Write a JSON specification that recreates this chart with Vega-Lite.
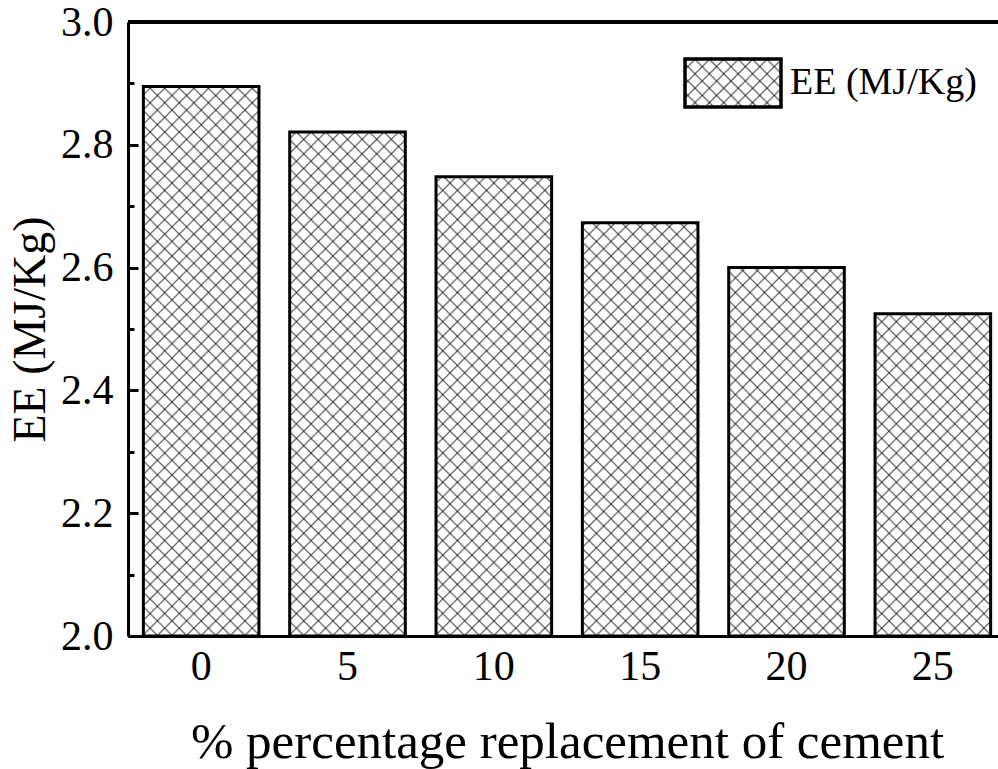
{
  "$schema": "https://vega.github.io/schema/vega-lite/v6.json",
  "width": 870,
  "height": 614,
  "autosize": {"type": "none"},
  "padding": {"left": 128, "top": 22, "right": 0, "bottom": 133},
  "background": "white",
  "config": {
    "view": {"stroke": null},
    "font": "Liberation Serif"
  },
  "data": {
    "values": [
      {"pct": 0, "EE": 2.895},
      {"pct": 5, "EE": 2.821},
      {"pct": 10, "EE": 2.748},
      {"pct": 15, "EE": 2.673},
      {"pct": 20, "EE": 2.600},
      {"pct": 25, "EE": 2.525}
    ]
  },
  "layer": [
    {
      "mark": {
        "type": "bar",
        "strokeWidth": 0,
        "fill": {
          "gradient": "linear",
          "x1": 0, "y1": 1, "x2": 0.21607, "y2": -0.14763,
          "stops": [
            {"offset": 0.0175, "color": "rgba(0,0,0,0)"}, {"offset": 0.02, "color": "rgba(0,0,0,0.6)"}, {"offset": 0.0225, "color": "rgba(0,0,0,0)"},
            {"offset": 0.0375, "color": "rgba(0,0,0,0)"}, {"offset": 0.04, "color": "rgba(0,0,0,0.6)"}, {"offset": 0.0425, "color": "rgba(0,0,0,0)"},
            {"offset": 0.0575, "color": "rgba(0,0,0,0)"}, {"offset": 0.06, "color": "rgba(0,0,0,0.6)"}, {"offset": 0.0625, "color": "rgba(0,0,0,0)"},
            {"offset": 0.0775, "color": "rgba(0,0,0,0)"}, {"offset": 0.08, "color": "rgba(0,0,0,0.6)"}, {"offset": 0.0825, "color": "rgba(0,0,0,0)"},
            {"offset": 0.0975, "color": "rgba(0,0,0,0)"}, {"offset": 0.10, "color": "rgba(0,0,0,0.6)"}, {"offset": 0.1025, "color": "rgba(0,0,0,0)"},
            {"offset": 0.1175, "color": "rgba(0,0,0,0)"}, {"offset": 0.12, "color": "rgba(0,0,0,0.6)"}, {"offset": 0.1225, "color": "rgba(0,0,0,0)"},
            {"offset": 0.1375, "color": "rgba(0,0,0,0)"}, {"offset": 0.14, "color": "rgba(0,0,0,0.6)"}, {"offset": 0.1425, "color": "rgba(0,0,0,0)"},
            {"offset": 0.1575, "color": "rgba(0,0,0,0)"}, {"offset": 0.16, "color": "rgba(0,0,0,0.6)"}, {"offset": 0.1625, "color": "rgba(0,0,0,0)"},
            {"offset": 0.1775, "color": "rgba(0,0,0,0)"}, {"offset": 0.18, "color": "rgba(0,0,0,0.6)"}, {"offset": 0.1825, "color": "rgba(0,0,0,0)"},
            {"offset": 0.1975, "color": "rgba(0,0,0,0)"}, {"offset": 0.20, "color": "rgba(0,0,0,0.6)"}, {"offset": 0.2025, "color": "rgba(0,0,0,0)"},
            {"offset": 0.2175, "color": "rgba(0,0,0,0)"}, {"offset": 0.22, "color": "rgba(0,0,0,0.6)"}, {"offset": 0.2225, "color": "rgba(0,0,0,0)"},
            {"offset": 0.2375, "color": "rgba(0,0,0,0)"}, {"offset": 0.24, "color": "rgba(0,0,0,0.6)"}, {"offset": 0.2425, "color": "rgba(0,0,0,0)"},
            {"offset": 0.2575, "color": "rgba(0,0,0,0)"}, {"offset": 0.26, "color": "rgba(0,0,0,0.6)"}, {"offset": 0.2625, "color": "rgba(0,0,0,0)"},
            {"offset": 0.2775, "color": "rgba(0,0,0,0)"}, {"offset": 0.28, "color": "rgba(0,0,0,0.6)"}, {"offset": 0.2825, "color": "rgba(0,0,0,0)"},
            {"offset": 0.2975, "color": "rgba(0,0,0,0)"}, {"offset": 0.30, "color": "rgba(0,0,0,0.6)"}, {"offset": 0.3025, "color": "rgba(0,0,0,0)"},
            {"offset": 0.3175, "color": "rgba(0,0,0,0)"}, {"offset": 0.32, "color": "rgba(0,0,0,0.6)"}, {"offset": 0.3225, "color": "rgba(0,0,0,0)"},
            {"offset": 0.3375, "color": "rgba(0,0,0,0)"}, {"offset": 0.34, "color": "rgba(0,0,0,0.6)"}, {"offset": 0.3425, "color": "rgba(0,0,0,0)"},
            {"offset": 0.3575, "color": "rgba(0,0,0,0)"}, {"offset": 0.36, "color": "rgba(0,0,0,0.6)"}, {"offset": 0.3625, "color": "rgba(0,0,0,0)"},
            {"offset": 0.3775, "color": "rgba(0,0,0,0)"}, {"offset": 0.38, "color": "rgba(0,0,0,0.6)"}, {"offset": 0.3825, "color": "rgba(0,0,0,0)"},
            {"offset": 0.3975, "color": "rgba(0,0,0,0)"}, {"offset": 0.40, "color": "rgba(0,0,0,0.6)"}, {"offset": 0.4025, "color": "rgba(0,0,0,0)"},
            {"offset": 0.4175, "color": "rgba(0,0,0,0)"}, {"offset": 0.42, "color": "rgba(0,0,0,0.6)"}, {"offset": 0.4225, "color": "rgba(0,0,0,0)"},
            {"offset": 0.4375, "color": "rgba(0,0,0,0)"}, {"offset": 0.44, "color": "rgba(0,0,0,0.6)"}, {"offset": 0.4425, "color": "rgba(0,0,0,0)"},
            {"offset": 0.4575, "color": "rgba(0,0,0,0)"}, {"offset": 0.46, "color": "rgba(0,0,0,0.6)"}, {"offset": 0.4625, "color": "rgba(0,0,0,0)"},
            {"offset": 0.4775, "color": "rgba(0,0,0,0)"}, {"offset": 0.48, "color": "rgba(0,0,0,0.6)"}, {"offset": 0.4825, "color": "rgba(0,0,0,0)"},
            {"offset": 0.4975, "color": "rgba(0,0,0,0)"}, {"offset": 0.50, "color": "rgba(0,0,0,0.6)"}, {"offset": 0.5025, "color": "rgba(0,0,0,0)"},
            {"offset": 0.5175, "color": "rgba(0,0,0,0)"}, {"offset": 0.52, "color": "rgba(0,0,0,0.6)"}, {"offset": 0.5225, "color": "rgba(0,0,0,0)"},
            {"offset": 0.5375, "color": "rgba(0,0,0,0)"}, {"offset": 0.54, "color": "rgba(0,0,0,0.6)"}, {"offset": 0.5425, "color": "rgba(0,0,0,0)"},
            {"offset": 0.5575, "color": "rgba(0,0,0,0)"}, {"offset": 0.56, "color": "rgba(0,0,0,0.6)"}, {"offset": 0.5625, "color": "rgba(0,0,0,0)"},
            {"offset": 0.5775, "color": "rgba(0,0,0,0)"}, {"offset": 0.58, "color": "rgba(0,0,0,0.6)"}, {"offset": 0.5825, "color": "rgba(0,0,0,0)"},
            {"offset": 0.5975, "color": "rgba(0,0,0,0)"}, {"offset": 0.60, "color": "rgba(0,0,0,0.6)"}, {"offset": 0.6025, "color": "rgba(0,0,0,0)"},
            {"offset": 0.6175, "color": "rgba(0,0,0,0)"}, {"offset": 0.62, "color": "rgba(0,0,0,0.6)"}, {"offset": 0.6225, "color": "rgba(0,0,0,0)"},
            {"offset": 0.6375, "color": "rgba(0,0,0,0)"}, {"offset": 0.64, "color": "rgba(0,0,0,0.6)"}, {"offset": 0.6425, "color": "rgba(0,0,0,0)"},
            {"offset": 0.6575, "color": "rgba(0,0,0,0)"}, {"offset": 0.66, "color": "rgba(0,0,0,0.6)"}, {"offset": 0.6625, "color": "rgba(0,0,0,0)"},
            {"offset": 0.6775, "color": "rgba(0,0,0,0)"}, {"offset": 0.68, "color": "rgba(0,0,0,0.6)"}, {"offset": 0.6825, "color": "rgba(0,0,0,0)"},
            {"offset": 0.6975, "color": "rgba(0,0,0,0)"}, {"offset": 0.70, "color": "rgba(0,0,0,0.6)"}, {"offset": 0.7025, "color": "rgba(0,0,0,0)"},
            {"offset": 0.7175, "color": "rgba(0,0,0,0)"}, {"offset": 0.72, "color": "rgba(0,0,0,0.6)"}, {"offset": 0.7225, "color": "rgba(0,0,0,0)"},
            {"offset": 0.7375, "color": "rgba(0,0,0,0)"}, {"offset": 0.74, "color": "rgba(0,0,0,0.6)"}, {"offset": 0.7425, "color": "rgba(0,0,0,0)"},
            {"offset": 0.7575, "color": "rgba(0,0,0,0)"}, {"offset": 0.76, "color": "rgba(0,0,0,0.6)"}, {"offset": 0.7625, "color": "rgba(0,0,0,0)"},
            {"offset": 0.7775, "color": "rgba(0,0,0,0)"}, {"offset": 0.78, "color": "rgba(0,0,0,0.6)"}, {"offset": 0.7825, "color": "rgba(0,0,0,0)"},
            {"offset": 0.7975, "color": "rgba(0,0,0,0)"}, {"offset": 0.80, "color": "rgba(0,0,0,0.6)"}, {"offset": 0.8025, "color": "rgba(0,0,0,0)"},
            {"offset": 0.8175, "color": "rgba(0,0,0,0)"}, {"offset": 0.82, "color": "rgba(0,0,0,0.6)"}, {"offset": 0.8225, "color": "rgba(0,0,0,0)"},
            {"offset": 0.8375, "color": "rgba(0,0,0,0)"}, {"offset": 0.84, "color": "rgba(0,0,0,0.6)"}, {"offset": 0.8425, "color": "rgba(0,0,0,0)"},
            {"offset": 0.8575, "color": "rgba(0,0,0,0)"}, {"offset": 0.86, "color": "rgba(0,0,0,0.6)"}, {"offset": 0.8625, "color": "rgba(0,0,0,0)"},
            {"offset": 0.8775, "color": "rgba(0,0,0,0)"}, {"offset": 0.88, "color": "rgba(0,0,0,0.6)"}, {"offset": 0.8825, "color": "rgba(0,0,0,0)"},
            {"offset": 0.8975, "color": "rgba(0,0,0,0)"}, {"offset": 0.90, "color": "rgba(0,0,0,0.6)"}, {"offset": 0.9025, "color": "rgba(0,0,0,0)"},
            {"offset": 0.9175, "color": "rgba(0,0,0,0)"}, {"offset": 0.92, "color": "rgba(0,0,0,0.6)"}, {"offset": 0.9225, "color": "rgba(0,0,0,0)"},
            {"offset": 0.9375, "color": "rgba(0,0,0,0)"}, {"offset": 0.94, "color": "rgba(0,0,0,0.6)"}, {"offset": 0.9425, "color": "rgba(0,0,0,0)"},
            {"offset": 0.9575, "color": "rgba(0,0,0,0)"}, {"offset": 0.96, "color": "rgba(0,0,0,0.6)"}, {"offset": 0.9625, "color": "rgba(0,0,0,0)"},
            {"offset": 0.9775, "color": "rgba(0,0,0,0)"}, {"offset": 0.98, "color": "rgba(0,0,0,0.6)"}, {"offset": 0.9825, "color": "rgba(0,0,0,0)"}
          ]
        }
      },
      "encoding": {
        "x": {
          "field": "pct",
          "type": "ordinal",
          "scale": {"range": [0, 878], "paddingInner": 0.21, "paddingOuter": 0.105},
          "axis": {
            "title": "% percentage replacement of cement",
            "labelAngle": 0,
            "labelFont": "Liberation Serif",
            "labelFontSize": 42,
            "labelColor": "black",
            "labelPadding": 10,
            "ticks": false,
            "domainColor": "black",
            "domainWidth": 3,
            "titleFont": "Liberation Serif",
            "titleFontSize": 51,
            "titleFontWeight": "normal",
            "titleColor": "black",
            "titlePadding": 30,
            "zindex": 2
          }
        },
        "y": {"datum": 2, "type": "quantitative"},
        "y2": {"datum": 3}
      }
    },
    {
      "mark": {
        "type": "bar",
        "strokeWidth": 0,
        "fill": {
          "gradient": "linear",
          "x1": 0, "y1": 0, "x2": 0.21607, "y2": 1.14763,
          "stops": [
            {"offset": 0.0175, "color": "rgba(0,0,0,0)"}, {"offset": 0.02, "color": "rgba(0,0,0,0.6)"}, {"offset": 0.0225, "color": "rgba(0,0,0,0)"},
            {"offset": 0.0375, "color": "rgba(0,0,0,0)"}, {"offset": 0.04, "color": "rgba(0,0,0,0.6)"}, {"offset": 0.0425, "color": "rgba(0,0,0,0)"},
            {"offset": 0.0575, "color": "rgba(0,0,0,0)"}, {"offset": 0.06, "color": "rgba(0,0,0,0.6)"}, {"offset": 0.0625, "color": "rgba(0,0,0,0)"},
            {"offset": 0.0775, "color": "rgba(0,0,0,0)"}, {"offset": 0.08, "color": "rgba(0,0,0,0.6)"}, {"offset": 0.0825, "color": "rgba(0,0,0,0)"},
            {"offset": 0.0975, "color": "rgba(0,0,0,0)"}, {"offset": 0.10, "color": "rgba(0,0,0,0.6)"}, {"offset": 0.1025, "color": "rgba(0,0,0,0)"},
            {"offset": 0.1175, "color": "rgba(0,0,0,0)"}, {"offset": 0.12, "color": "rgba(0,0,0,0.6)"}, {"offset": 0.1225, "color": "rgba(0,0,0,0)"},
            {"offset": 0.1375, "color": "rgba(0,0,0,0)"}, {"offset": 0.14, "color": "rgba(0,0,0,0.6)"}, {"offset": 0.1425, "color": "rgba(0,0,0,0)"},
            {"offset": 0.1575, "color": "rgba(0,0,0,0)"}, {"offset": 0.16, "color": "rgba(0,0,0,0.6)"}, {"offset": 0.1625, "color": "rgba(0,0,0,0)"},
            {"offset": 0.1775, "color": "rgba(0,0,0,0)"}, {"offset": 0.18, "color": "rgba(0,0,0,0.6)"}, {"offset": 0.1825, "color": "rgba(0,0,0,0)"},
            {"offset": 0.1975, "color": "rgba(0,0,0,0)"}, {"offset": 0.20, "color": "rgba(0,0,0,0.6)"}, {"offset": 0.2025, "color": "rgba(0,0,0,0)"},
            {"offset": 0.2175, "color": "rgba(0,0,0,0)"}, {"offset": 0.22, "color": "rgba(0,0,0,0.6)"}, {"offset": 0.2225, "color": "rgba(0,0,0,0)"},
            {"offset": 0.2375, "color": "rgba(0,0,0,0)"}, {"offset": 0.24, "color": "rgba(0,0,0,0.6)"}, {"offset": 0.2425, "color": "rgba(0,0,0,0)"},
            {"offset": 0.2575, "color": "rgba(0,0,0,0)"}, {"offset": 0.26, "color": "rgba(0,0,0,0.6)"}, {"offset": 0.2625, "color": "rgba(0,0,0,0)"},
            {"offset": 0.2775, "color": "rgba(0,0,0,0)"}, {"offset": 0.28, "color": "rgba(0,0,0,0.6)"}, {"offset": 0.2825, "color": "rgba(0,0,0,0)"},
            {"offset": 0.2975, "color": "rgba(0,0,0,0)"}, {"offset": 0.30, "color": "rgba(0,0,0,0.6)"}, {"offset": 0.3025, "color": "rgba(0,0,0,0)"},
            {"offset": 0.3175, "color": "rgba(0,0,0,0)"}, {"offset": 0.32, "color": "rgba(0,0,0,0.6)"}, {"offset": 0.3225, "color": "rgba(0,0,0,0)"},
            {"offset": 0.3375, "color": "rgba(0,0,0,0)"}, {"offset": 0.34, "color": "rgba(0,0,0,0.6)"}, {"offset": 0.3425, "color": "rgba(0,0,0,0)"},
            {"offset": 0.3575, "color": "rgba(0,0,0,0)"}, {"offset": 0.36, "color": "rgba(0,0,0,0.6)"}, {"offset": 0.3625, "color": "rgba(0,0,0,0)"},
            {"offset": 0.3775, "color": "rgba(0,0,0,0)"}, {"offset": 0.38, "color": "rgba(0,0,0,0.6)"}, {"offset": 0.3825, "color": "rgba(0,0,0,0)"},
            {"offset": 0.3975, "color": "rgba(0,0,0,0)"}, {"offset": 0.40, "color": "rgba(0,0,0,0.6)"}, {"offset": 0.4025, "color": "rgba(0,0,0,0)"},
            {"offset": 0.4175, "color": "rgba(0,0,0,0)"}, {"offset": 0.42, "color": "rgba(0,0,0,0.6)"}, {"offset": 0.4225, "color": "rgba(0,0,0,0)"},
            {"offset": 0.4375, "color": "rgba(0,0,0,0)"}, {"offset": 0.44, "color": "rgba(0,0,0,0.6)"}, {"offset": 0.4425, "color": "rgba(0,0,0,0)"},
            {"offset": 0.4575, "color": "rgba(0,0,0,0)"}, {"offset": 0.46, "color": "rgba(0,0,0,0.6)"}, {"offset": 0.4625, "color": "rgba(0,0,0,0)"},
            {"offset": 0.4775, "color": "rgba(0,0,0,0)"}, {"offset": 0.48, "color": "rgba(0,0,0,0.6)"}, {"offset": 0.4825, "color": "rgba(0,0,0,0)"},
            {"offset": 0.4975, "color": "rgba(0,0,0,0)"}, {"offset": 0.50, "color": "rgba(0,0,0,0.6)"}, {"offset": 0.5025, "color": "rgba(0,0,0,0)"},
            {"offset": 0.5175, "color": "rgba(0,0,0,0)"}, {"offset": 0.52, "color": "rgba(0,0,0,0.6)"}, {"offset": 0.5225, "color": "rgba(0,0,0,0)"},
            {"offset": 0.5375, "color": "rgba(0,0,0,0)"}, {"offset": 0.54, "color": "rgba(0,0,0,0.6)"}, {"offset": 0.5425, "color": "rgba(0,0,0,0)"},
            {"offset": 0.5575, "color": "rgba(0,0,0,0)"}, {"offset": 0.56, "color": "rgba(0,0,0,0.6)"}, {"offset": 0.5625, "color": "rgba(0,0,0,0)"},
            {"offset": 0.5775, "color": "rgba(0,0,0,0)"}, {"offset": 0.58, "color": "rgba(0,0,0,0.6)"}, {"offset": 0.5825, "color": "rgba(0,0,0,0)"},
            {"offset": 0.5975, "color": "rgba(0,0,0,0)"}, {"offset": 0.60, "color": "rgba(0,0,0,0.6)"}, {"offset": 0.6025, "color": "rgba(0,0,0,0)"},
            {"offset": 0.6175, "color": "rgba(0,0,0,0)"}, {"offset": 0.62, "color": "rgba(0,0,0,0.6)"}, {"offset": 0.6225, "color": "rgba(0,0,0,0)"},
            {"offset": 0.6375, "color": "rgba(0,0,0,0)"}, {"offset": 0.64, "color": "rgba(0,0,0,0.6)"}, {"offset": 0.6425, "color": "rgba(0,0,0,0)"},
            {"offset": 0.6575, "color": "rgba(0,0,0,0)"}, {"offset": 0.66, "color": "rgba(0,0,0,0.6)"}, {"offset": 0.6625, "color": "rgba(0,0,0,0)"},
            {"offset": 0.6775, "color": "rgba(0,0,0,0)"}, {"offset": 0.68, "color": "rgba(0,0,0,0.6)"}, {"offset": 0.6825, "color": "rgba(0,0,0,0)"},
            {"offset": 0.6975, "color": "rgba(0,0,0,0)"}, {"offset": 0.70, "color": "rgba(0,0,0,0.6)"}, {"offset": 0.7025, "color": "rgba(0,0,0,0)"},
            {"offset": 0.7175, "color": "rgba(0,0,0,0)"}, {"offset": 0.72, "color": "rgba(0,0,0,0.6)"}, {"offset": 0.7225, "color": "rgba(0,0,0,0)"},
            {"offset": 0.7375, "color": "rgba(0,0,0,0)"}, {"offset": 0.74, "color": "rgba(0,0,0,0.6)"}, {"offset": 0.7425, "color": "rgba(0,0,0,0)"},
            {"offset": 0.7575, "color": "rgba(0,0,0,0)"}, {"offset": 0.76, "color": "rgba(0,0,0,0.6)"}, {"offset": 0.7625, "color": "rgba(0,0,0,0)"},
            {"offset": 0.7775, "color": "rgba(0,0,0,0)"}, {"offset": 0.78, "color": "rgba(0,0,0,0.6)"}, {"offset": 0.7825, "color": "rgba(0,0,0,0)"},
            {"offset": 0.7975, "color": "rgba(0,0,0,0)"}, {"offset": 0.80, "color": "rgba(0,0,0,0.6)"}, {"offset": 0.8025, "color": "rgba(0,0,0,0)"},
            {"offset": 0.8175, "color": "rgba(0,0,0,0)"}, {"offset": 0.82, "color": "rgba(0,0,0,0.6)"}, {"offset": 0.8225, "color": "rgba(0,0,0,0)"},
            {"offset": 0.8375, "color": "rgba(0,0,0,0)"}, {"offset": 0.84, "color": "rgba(0,0,0,0.6)"}, {"offset": 0.8425, "color": "rgba(0,0,0,0)"},
            {"offset": 0.8575, "color": "rgba(0,0,0,0)"}, {"offset": 0.86, "color": "rgba(0,0,0,0.6)"}, {"offset": 0.8625, "color": "rgba(0,0,0,0)"},
            {"offset": 0.8775, "color": "rgba(0,0,0,0)"}, {"offset": 0.88, "color": "rgba(0,0,0,0.6)"}, {"offset": 0.8825, "color": "rgba(0,0,0,0)"},
            {"offset": 0.8975, "color": "rgba(0,0,0,0)"}, {"offset": 0.90, "color": "rgba(0,0,0,0.6)"}, {"offset": 0.9025, "color": "rgba(0,0,0,0)"},
            {"offset": 0.9175, "color": "rgba(0,0,0,0)"}, {"offset": 0.92, "color": "rgba(0,0,0,0.6)"}, {"offset": 0.9225, "color": "rgba(0,0,0,0)"},
            {"offset": 0.9375, "color": "rgba(0,0,0,0)"}, {"offset": 0.94, "color": "rgba(0,0,0,0.6)"}, {"offset": 0.9425, "color": "rgba(0,0,0,0)"},
            {"offset": 0.9575, "color": "rgba(0,0,0,0)"}, {"offset": 0.96, "color": "rgba(0,0,0,0.6)"}, {"offset": 0.9625, "color": "rgba(0,0,0,0)"},
            {"offset": 0.9775, "color": "rgba(0,0,0,0)"}, {"offset": 0.98, "color": "rgba(0,0,0,0.6)"}, {"offset": 0.9825, "color": "rgba(0,0,0,0)"}
          ]
        }
      },
      "encoding": {
        "x": {"field": "pct", "type": "ordinal"},
        "y": {"datum": 2, "type": "quantitative"},
        "y2": {"datum": 3}
      }
    },
    {
      "mark": {"type": "bar", "fill": "white", "stroke": "white", "strokeWidth": 2},
      "encoding": {
        "x": {"field": "pct", "type": "ordinal"},
        "y": {"field": "EE", "type": "quantitative"},
        "y2": {"datum": 3}
      }
    },
    {
      "mark": {
        "type": "bar",
        "fillOpacity": 0,
        "strokeWidth": 3,
        "strokeJoin": "miter",
        "color": {
          "gradient": "linear",
          "x1": 0, "y1": 1, "x2": 1.2, "y2": 0.4,
          "stops": [
            {"offset": 0.087, "color": "rgba(0,0,0,0)"}, {"offset": 0.1, "color": "rgba(0,0,0,0.6)"}, {"offset": 0.113, "color": "rgba(0,0,0,0)"},
            {"offset": 0.187, "color": "rgba(0,0,0,0)"}, {"offset": 0.2, "color": "rgba(0,0,0,0.6)"}, {"offset": 0.213, "color": "rgba(0,0,0,0)"},
            {"offset": 0.287, "color": "rgba(0,0,0,0)"}, {"offset": 0.3, "color": "rgba(0,0,0,0.6)"}, {"offset": 0.313, "color": "rgba(0,0,0,0)"},
            {"offset": 0.387, "color": "rgba(0,0,0,0)"}, {"offset": 0.4, "color": "rgba(0,0,0,0.6)"}, {"offset": 0.413, "color": "rgba(0,0,0,0)"},
            {"offset": 0.487, "color": "rgba(0,0,0,0)"}, {"offset": 0.5, "color": "rgba(0,0,0,0.6)"}, {"offset": 0.513, "color": "rgba(0,0,0,0)"},
            {"offset": 0.587, "color": "rgba(0,0,0,0)"}, {"offset": 0.6, "color": "rgba(0,0,0,0.6)"}, {"offset": 0.613, "color": "rgba(0,0,0,0)"},
            {"offset": 0.687, "color": "rgba(0,0,0,0)"}, {"offset": 0.7, "color": "rgba(0,0,0,0.6)"}, {"offset": 0.713, "color": "rgba(0,0,0,0)"},
            {"offset": 0.787, "color": "rgba(0,0,0,0)"}, {"offset": 0.8, "color": "rgba(0,0,0,0.6)"}, {"offset": 0.813, "color": "rgba(0,0,0,0)"},
            {"offset": 0.887, "color": "rgba(0,0,0,0)"}, {"offset": 0.9, "color": "rgba(0,0,0,0.6)"}, {"offset": 0.913, "color": "rgba(0,0,0,0)"}
          ]
        }
      },
      "encoding": {
        "x": {"field": "pct", "type": "ordinal"},
        "y": {
          "field": "EE",
          "type": "quantitative",
          "stack": null,
          "scale": {"domain": [2, 3], "nice": false, "zero": false},
          "axis": {
            "title": "EE (MJ/Kg)",
            "values": [2, 2.1, 2.2, 2.3, 2.4, 2.5, 2.6, 2.7, 2.8, 2.9, 3],
            "labelExpr": "round(datum.value * 10) % 2 == 0 ? format(datum.value, '.1f') : ''",
            "labelFont": "Liberation Serif",
            "labelFontSize": 42,
            "labelColor": "black",
            "labelPadding": 25,
            "labelFlush": false,
            "labelOverlap": false,
            "tickSize": {"condition": {"test": "round(datum.value * 10) % 2 == 1", "value": -6}, "value": -10},
            "tickWidth": 3,
            "tickColor": "black",
            "domainColor": "black",
            "domainWidth": 3,
            "grid": false,
            "titleFont": "Liberation Serif",
            "titleFontSize": 46,
            "titleFontWeight": "normal",
            "titleColor": "black",
            "titlePadding": 6,
            "zindex": 2
          }
        },
        "y2": {"datum": 2},
        "stroke": {
          "datum": "EE (MJ/Kg)",
          "scale": {"range": ["black"]},
          "legend": {
            "title": null,
            "orient": "none",
            "legendX": 555,
            "legendY": 35,
            "padding": 0,
            "symbolType": "M-2,-1H2V1H-2Z",
            "symbolSize": 2304,
            "symbolOffset": 24,
            "symbolStrokeWidth": 3.5,
            "labelFont": "Liberation Serif",
            "labelFontSize": 38,
            "labelColor": "black",
            "labelOffset": 31,
            "labelLimit": 400,
            "encode": {
              "symbols": {
                "strokeWidth": {"value": 3.5},
                "fillOpacity": {"value": 1}
              }
            }
          }
        }
      }
    },
    {
      "mark": {
        "type": "bar",
        "fillOpacity": 0,
        "strokeWidth": 0,
        "color": {
          "gradient": "linear",
          "x1": 0, "y1": 0, "x2": 1.2, "y2": 0.6,
          "stops": [
            {"offset": 0.087, "color": "rgba(0,0,0,0)"}, {"offset": 0.1, "color": "rgba(0,0,0,0.6)"}, {"offset": 0.113, "color": "rgba(0,0,0,0)"},
            {"offset": 0.187, "color": "rgba(0,0,0,0)"}, {"offset": 0.2, "color": "rgba(0,0,0,0.6)"}, {"offset": 0.213, "color": "rgba(0,0,0,0)"},
            {"offset": 0.287, "color": "rgba(0,0,0,0)"}, {"offset": 0.3, "color": "rgba(0,0,0,0.6)"}, {"offset": 0.313, "color": "rgba(0,0,0,0)"},
            {"offset": 0.387, "color": "rgba(0,0,0,0)"}, {"offset": 0.4, "color": "rgba(0,0,0,0.6)"}, {"offset": 0.413, "color": "rgba(0,0,0,0)"},
            {"offset": 0.487, "color": "rgba(0,0,0,0)"}, {"offset": 0.5, "color": "rgba(0,0,0,0.6)"}, {"offset": 0.513, "color": "rgba(0,0,0,0)"},
            {"offset": 0.587, "color": "rgba(0,0,0,0)"}, {"offset": 0.6, "color": "rgba(0,0,0,0.6)"}, {"offset": 0.613, "color": "rgba(0,0,0,0)"},
            {"offset": 0.687, "color": "rgba(0,0,0,0)"}, {"offset": 0.7, "color": "rgba(0,0,0,0.6)"}, {"offset": 0.713, "color": "rgba(0,0,0,0)"},
            {"offset": 0.787, "color": "rgba(0,0,0,0)"}, {"offset": 0.8, "color": "rgba(0,0,0,0.6)"}, {"offset": 0.813, "color": "rgba(0,0,0,0)"},
            {"offset": 0.887, "color": "rgba(0,0,0,0)"}, {"offset": 0.9, "color": "rgba(0,0,0,0.6)"}, {"offset": 0.913, "color": "rgba(0,0,0,0)"}
          ]
        }
      },
      "encoding": {
        "x": {"field": "pct", "type": "ordinal"},
        "y": {"field": "EE", "type": "quantitative"},
        "y2": {"datum": 2},
        "opacity": {
          "datum": "crosshatch",
          "type": "ordinal",
          "scale": {"range": [1]},
          "legend": {
            "title": null,
            "orient": "none",
            "legendX": 555,
            "legendY": 35,
            "padding": 0,
            "symbolType": "M-2,-1H2V1H-2Z",
            "symbolSize": 2304,
            "symbolOffset": 24,
            "symbolStrokeWidth": 0,
            "labelOpacity": 0,
            "labelFontSize": 1,
            "encode": {
              "symbols": {
                "strokeWidth": {"value": 0},
                "fillOpacity": {"value": 1}
              }
            }
          }
        }
      }
    },
    {
      "mark": {"type": "rule", "color": "black", "strokeWidth": 3},
      "encoding": {"y": {"datum": 3, "type": "quantitative"}}
    }
  ]
}
